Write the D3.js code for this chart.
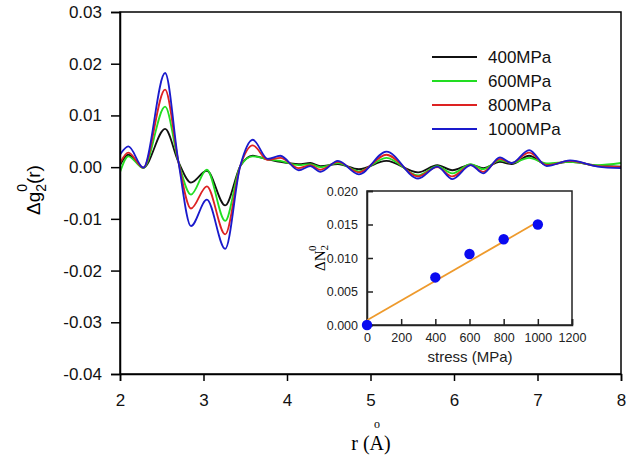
<!DOCTYPE html>
<html>
<head>
<meta charset="utf-8">
<script src="https://cdn.jsdelivr.net/npm/d3@7"></script>
<style>
  body { margin: 0; background: #fff; }
  text { font-family: Arial, "Liberation Sans", sans-serif; }
</style>
</head>
<body>
<div id="chart"></div>
<script>
// r grid (angstrom), read at the wiggle extrema
var rVals = [2.00, 2.10, 2.28, 2.54, 2.70, 2.85, 3.04, 3.26, 3.44, 3.59, 3.77, 3.92, 4.14, 4.28, 4.40, 4.61, 4.86, 5.19, 5.57, 5.80, 5.98, 6.20, 6.35, 6.55, 6.69, 6.90, 7.11, 7.39, 7.72, 8.00]

var g400 = [0.0004, 0.0024, -0.0001, 0.0074, 0.0010, -0.0030, -0.0007, -0.0074, 0.0002, 0.0022, 0.0015, 0.0010, 0.0006, 0.0008, 0.0002, 0.0006, -0.0004, 0.0012, -0.0010, 0.0004, -0.0006, 0.0005, -0.0002, 0.0010, 0.0006, 0.0022, 0.0005, 0.0010, 0.0003, 0.0001]
var g600 = [-0.0010, 0.0021, -0.0002, 0.0117, 0.0010, -0.0053, -0.0005, -0.0104, 0.0002, 0.0021, 0.0015, 0.0012, 0.0004, 0.0006, 0.0000, 0.0008, -0.0008, 0.0018, -0.0016, 0.0002, -0.0012, 0.0006, -0.0004, 0.0013, 0.0008, 0.0018, 0.0007, 0.0010, 0.0004, 0.0008]
var g800 = [0.0008, 0.0028, -0.0001, 0.0150, 0.0010, -0.0080, -0.0037, -0.0130, 0.0002, 0.0042, 0.0014, 0.0018, -0.0002, 0.0004, -0.0005, 0.0010, -0.0010, 0.0024, -0.0018, 0.0000, -0.0018, 0.0004, -0.0009, 0.0016, 0.0008, 0.0028, 0.0004, 0.0012, 0.0002, 0.0000]
var g1000 = [0.0024, 0.0040, -0.0001, 0.0182, 0.0010, -0.0114, -0.0063, -0.0158, 0.0002, 0.0053, 0.0016, 0.0022, -0.0006, 0.0002, -0.0009, 0.0012, -0.0014, 0.0030, -0.0022, 0.0001, -0.0023, 0.0004, -0.0012, 0.0019, 0.0008, 0.0033, 0.0002, 0.0013, 0.0001, -0.0002]

var seriesNames = ["400MPa", "600MPa", "800MPa", "1000MPa"]
var seriesColors = ["#111111", "#22dd22", "#dd2222", "#1a1acc"]

var xTicks = [2, 3, 4, 5, 6, 7, 8]
var yTicks = [0.03, 0.02, 0.01, 0.00, -0.01, -0.02, -0.03, -0.04]

// inset: dN2 vs stress
var stress = [0, 400, 600, 800, 1000]
var dN2 = [0.0000, 0.0071, 0.0106, 0.0128, 0.0150]
var fitStress = [0, 1000]
var fitN2 = [0.0007, 0.0154]
var insetXTicks = [0, 200, 400, 600, 800, 1000, 1200]
var insetYTicks = [0.000, 0.005, 0.010, 0.015, 0.020]

var svg = d3.select("#chart").append("svg")
    .attr("width", 626)
    .attr("height", 458)

// plain hyphen minus like the original figure
function fmt(spec) {
    var f = d3.format(spec)
    return function(d) { return f(d).replace("\u2212", "-") }
}

//main plot
var x = d3.scaleLinear().domain([2, 8]).range([120, 621])
var y = d3.scaleLinear().domain([-0.04, 0.03]).range([374, 12])

var series = [g400, g600, g800, g1000]

var line = d3.line()
    .x(function(d) { return x(d[0]) })
    .y(function(d) { return y(d[1]) })
    .curve(d3.curveMonotoneX)

var main = svg.append("g")
main.append("clipPath").attr("id", "clip")
    .append("rect").attr("x", 120).attr("y", 12).attr("width", 501).attr("height", 362)

series.forEach(function(vals, i) {
    main.append("path")
        .datum(rVals.map(function(r, j) { return [r, vals[j]] }))
        .attr("d", line)
        .attr("clip-path", "url(#clip)")
        .attr("fill", "none")
        .attr("stroke", seriesColors[i])
        .attr("stroke-width", 1.8)
})

// frame
main.append("rect")
    .attr("x", 120).attr("y", 12).attr("width", 501).attr("height", 362)
    .attr("fill", "none").attr("stroke", "#000").attr("stroke-width", 1.5)

var xAxis = main.append("g")
    .attr("transform", "translate(0,374)")
    .call(d3.axisBottom(x).tickValues(xTicks).tickSize(7).tickPadding(13).tickFormat(fmt("d")))
var yAxis = main.append("g")
    .attr("transform", "translate(120,0)")
    .call(d3.axisLeft(y).tickValues(yTicks).tickSize(9).tickPadding(9).tickFormat(fmt(".2f")))

;[xAxis, yAxis].forEach(function(a) {
    a.select(".domain").attr("stroke-width", 1.5)
    a.selectAll(".tick line").attr("stroke-width", 1.5)
    a.selectAll("text").attr("font-size", 17).attr("fill", "#111")
        .attr("font-family", "Arial, 'Liberation Sans', sans-serif")
})

// x title r (Å) with the ring drawn above A
svg.append("text")
    .attr("x", 371).attr("y", 450)
    .attr("text-anchor", "middle")
    .attr("font-size", 20)
    .style("font-family", "'Times New Roman', 'Liberation Serif', serif")
    .text("r (A)")
svg.append("text")
    .attr("x", 377).attr("y", 428)
    .attr("text-anchor", "middle")
    .attr("font-size", 12)
    .style("font-family", "'Times New Roman', 'Liberation Serif', serif")
    .text("o")

// y title Δg2 0(r)
var yt = svg.append("text")
    .attr("transform", "translate(40,190) rotate(-90)")
    .attr("text-anchor", "middle")
    .attr("font-size", 19)
yt.append("tspan").text("Δg")
yt.append("tspan").attr("font-size", 14).attr("dy", 6).text("2")
yt.append("tspan").attr("font-size", 14).attr("dx", -8).attr("dy", -19).text("0")
yt.append("tspan").attr("dy", 13).text("(r)")

// legend
var legend = svg.append("g")
seriesNames.forEach(function(name, i) {
    var ly = 57 + i * 24
    legend.append("line")
        .attr("x1", 432).attr("x2", 477).attr("y1", ly).attr("y2", ly)
        .attr("stroke", seriesColors[i]).attr("stroke-width", 1.8)
    legend.append("text")
        .attr("x", 488).attr("y", ly + 6)
        .attr("font-size", 17).attr("fill", "#111")
        .text(name)
})

//inset
var ix = d3.scaleLinear().domain([0, 1200]).range([367, 572])
var iy = d3.scaleLinear().domain([0, 0.02]).range([325, 191])

var inset = svg.append("g")
inset.append("rect")
    .attr("x", 367).attr("y", 191).attr("width", 205).attr("height", 134)
    .attr("fill", "#fff").attr("stroke", "#222").attr("stroke-width", 1.5)

var ixAxis = inset.append("g")
    .attr("transform", "translate(0,325)")
    .call(d3.axisBottom(ix).tickValues(insetXTicks).tickSize(-6).tickPadding(8).tickFormat(fmt("d")))
var iyAxis = inset.append("g")
    .attr("transform", "translate(367,0)")
    .call(d3.axisLeft(iy).tickValues(insetYTicks).tickSize(-6).tickPadding(9).tickFormat(fmt(".3f")))

;[ixAxis, iyAxis].forEach(function(a) {
    a.select(".domain").attr("stroke-width", 1.5).attr("stroke", "#222")
    a.selectAll(".tick line").attr("stroke-width", 1.5).attr("stroke", "#222")
    a.selectAll("text").attr("font-size", 12.5).attr("fill", "#222")
        .attr("font-family", "Arial, 'Liberation Sans', sans-serif")
})

inset.append("path")
    .datum(fitStress.map(function(s, i) { return [s, fitN2[i]] }))
    .attr("d", d3.line().x(function(d) { return ix(d[0]) }).y(function(d) { return iy(d[1]) }))
    .attr("stroke", "#ee9a2c").attr("stroke-width", 1.8).attr("fill", "none")

inset.selectAll("circle")
    .data(stress.map(function(s, i) { return [s, dN2[i]] }))
    .enter()
    .append("circle")
    .attr("cx", function(d) { return ix(d[0]) })
    .attr("cy", function(d) { return iy(d[1]) })
    .attr("r", 5.2)
    .attr("fill", "#0a0af0")

svg.append("text")
    .attr("x", 470).attr("y", 362)
    .attr("text-anchor", "middle")
    .attr("font-size", 15).attr("fill", "#222")
    .text("stress (MPa)")

var iyt = svg.append("text")
    .attr("transform", "translate(325,258) rotate(-90)")
    .attr("text-anchor", "middle")
    .attr("font-size", 15)
    .style("font-family", "'Times New Roman', 'Liberation Serif', serif")
iyt.append("tspan").text("ΔN")
iyt.append("tspan").attr("font-size", 11).attr("dy", 3).text("2")
iyt.append("tspan").attr("font-size", 11).attr("dx", -6).attr("dy", -12).text("0")
</script>
</body>
</html>
